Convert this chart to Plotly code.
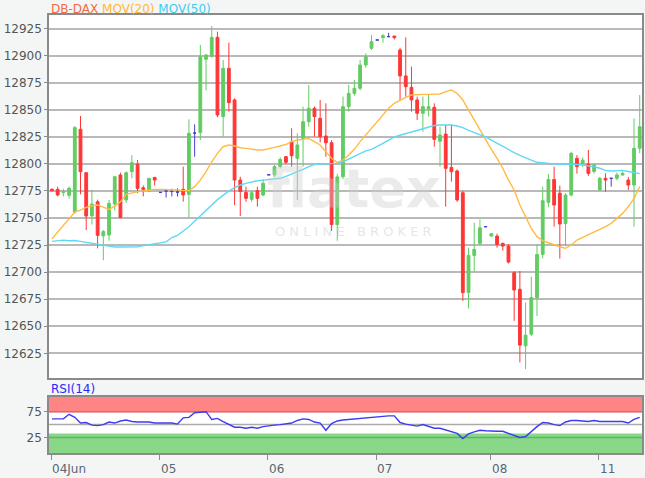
import plotly.graph_objects as go

# ---- data (30-min candles) ----
opens = [12776.5,12776.5,12773.5,12771,12755.6,12832,12791.9,12752,12765,12733.5,
         12734.3,12763,12789.8,12766.7,12792.8,12799.9,12778,12775.3,12787.6,12773.7,
         12775,12774.5,12774,12776.5,12771.9,12828.5,12828.9,12896.7,12899.7,12917,
         12843.7,12888.3,12859.1,12785.1,12773.7,12767.3,12775.3,12771.3,12790,12789.8,
         12797.5,12806.7,12820.6,12805.2,12823.6,12839,12851.4,12842.1,12825.8,12819.6,
         12744,12788.2,12852.9,12865.2,12869.9,12891.4,12906.8,12914.5,12916.7,12917.6,
         12918.2,12905.3,12881.3,12870.8,12859.1,12846.8,12851,12852.3,12821,12827.6,
         12796.8,12793.5,12773.4,12681.1,12715.5,12726.6,12742,12733.3,12733.3,12726.6,
         12724.1,12699.5,12684.2,12631.9,12642.7,12676.5,12716.4,12764.5,12785.7,12773,
         12745,12771.3,12805.2,12800.5,12799.9,12793,12776,12786.7,12786.7,12786.7,
         12789.8,12785.1,12780.5,12814.4]
highs = [12777.5,12779,12777,12779,12835,12844.3,12792,12776,12767,12739,
         12766.7,12789,12792,12793,12808.2,12803.6,12780,12787,12787.6,12774,
         12777,12777,12777.5,12797.5,12841.2,12836.6,12909.9,12901,12927.5,12922.2,
         12896,12912.1,12860.6,12788.2,12779,12775,12779,12786,12790.5,12799,
         12806,12807,12832.9,12828.3,12852.9,12872.9,12852.9,12859.1,12856,12822,
         12791,12862.2,12873,12877.6,12896,12902.2,12919,12914.5,12920,12921.1,
         12918.2,12907.4,12917,12889.9,12862.2,12862.2,12863.7,12856,12834.4,12836,
         12836,12795,12775,12722.6,12745.6,12748.7,12742,12736,12735.5,12727.2,
         12726,12701,12701,12671.9,12696,12725.6,12779,12790.7,12797.5,12780,
         12773,12811.3,12808.2,12806,12812.9,12800.5,12788,12791.3,12786.7,12792,
         12793,12788,12842,12863.7]
lows = [12774.5,12770,12770,12768,12754,12771.9,12738.9,12744,12722,12711,
        12729,12757,12749.7,12764,12786.7,12773,12770,12774,12780,12773,
        12769,12770,12770,12765.1,12750.6,12806.7,12822.1,12868,12898,12843.1,
        12825.2,12848.3,12762,12751.9,12765,12765,12760.5,12770,12789.5,12788,
        12796,12800,12797.5,12766.7,12797.5,12834.4,12825.2,12820,12806.7,12738,
        12729,12786,12848.3,12863,12868,12889,12905.3,12914.5,12912,12917.6,
        12915,12859.1,12862.2,12848.3,12840.6,12829.8,12843.7,12815.9,12797.5,12760.5,
        12783.6,12765,12673.4,12666.4,12701,12725,12742,12733,12722.6,12720,
        12708,12655,12616.6,12610.4,12641,12659.6,12712.7,12760,12742,12712.5,
        12724,12770,12791,12797,12789,12791,12775,12774.4,12779,12785,
        12789,12776,12742,12810]
closes = [12775.3,12771.3,12774.5,12777.5,12833.5,12792.8,12751.9,12763,12734,12737.5,
          12763.6,12788.2,12750.6,12791.9,12801.2,12777.4,12776.5,12786.7,12785.1,12773.7,
          12775,12774.5,12774,12771.3,12828.3,12828.5,12899.1,12900.7,12917,12845.2,
          12888.3,12856.6,12785.1,12774.4,12768.2,12773.4,12768.2,12782.1,12790,12797.5,
          12804.2,12801.5,12807.6,12817.5,12839,12851.4,12843.7,12825.2,12819.6,12744,
          12788,12852.9,12865.2,12869.9,12891.4,12899.1,12912.9,12914.5,12918.5,12917.6,
          12916.7,12881.3,12871.4,12859.1,12846.8,12852.9,12852.9,12822.7,12826.7,12795.9,
          12792.8,12766.7,12681.1,12715.5,12721,12741,12742,12735.5,12725.6,12724.1,
          12709.3,12683.5,12632.6,12641.8,12676.5,12716.4,12766,12785.7,12762,12744.5,
          12771.3,12809.8,12797.5,12803.5,12791.3,12799,12786.7,12785.1,12786.7,12789.8,
          12791.3,12780.5,12814.4,12834.4]
mov20 = [12730.9,12737,12743.2,12749.3,12755.6,12757.4,12759.9,12761.4,12762,12760,
         12758,12761,12765,12771.9,12773.4,12774.4,12775,12776,12776.5,12776.5,
         12776,12776,12776,12775.3,12775.3,12779,12785,12792.8,12802,12809.8,
         12815.9,12817.5,12816.6,12815,12814.4,12813.5,12812.9,12812.9,12814.4,12815.3,
         12816.6,12818.1,12820.6,12822.1,12822.7,12823.6,12820.6,12817.5,12811.3,12805.2,
         12801.2,12803.6,12808.2,12813.5,12820.6,12826.7,12832.9,12839,12845.2,12851.4,
         12856,12859.1,12861.5,12863.7,12864.3,12864.3,12864.3,12864.6,12864.6,12866.8,
         12868.3,12865.2,12859.1,12849.8,12840.6,12830.7,12822.1,12813.5,12805.2,12796,
         12785.1,12775.9,12762,12751.2,12740.5,12732.8,12729.1,12727.2,12725.1,12723.5,
         12722,12725.1,12729.7,12732.1,12734.3,12737.4,12739.5,12742,12745.1,12749.7,
         12754.3,12760.5,12768.2,12779]
mov50 = [12728.4,12729,12729.6,12729,12729.3,12728.5,12727.5,12726.5,12725.5,12724.5,
         12723.5,12723.2,12723.2,12723.2,12723.3,12723.5,12724.5,12725.5,12726.5,12727,
         12728,12732,12734,12738,12742,12747,12752,12757,12762,12767,
         12771,12775,12778,12780.5,12782,12783.5,12784.5,12785,12785.5,12786,
         12786.7,12788.5,12790.5,12793,12795,12797.5,12799.5,12800,12800.2,12800.3,
         12800.5,12802,12804.5,12807,12810,12812,12813.5,12816,12819,12822,
         12825,12826.5,12828,12829.5,12831,12832.5,12834.5,12835.5,12836,12836,
         12836,12835,12833.5,12831,12829,12827,12825,12822,12819,12816.5,
         12813.5,12810.5,12808,12805.5,12803.5,12801.5,12800.8,12800.3,12800,12800,
         12800,12800,12799.5,12799,12798.5,12797.5,12796,12794,12793.5,12794,
         12794,12793,12792,12791]
rsi14 = [61,61,61,70,64,53,54,49,48,50,55,53,57,59,56,55,55,55,53,53,
         53,53,51,63,64,73,74,75,60,62,56,50,45,45,43,45,43,46,48,49,
         50,51,53,58,61,60,55,53,39,52,57,59,60,61,63,64,65,65,67,67,
         67,54,51,49,47,50,47,43,43,40,36,33,23,32,36,39,38,37,37,37,
         33,29,25,27,37,46,54,53,50,48,55,58,58,57,56,58,56,56,56,56,
         56,53,60,64]
day_start = [0, 19, 38, 57, 77, 96]
day_labels = ["04Jun", "05", "06", "07", "08", "11"]
price_ticks = [12625, 12650, 12675, 12700, 12725, 12750, 12775, 12800, 12825, 12850, 12875, 12900, 12925]

n = len(closes)
idx = list(range(n))
doji = [i for i in idx if opens[i] == closes[i]]
body = [i for i in idx if opens[i] != closes[i]]

GREEN = "#62cc62"
RED = "#ff3636"
BLUE = "#4a3ed6"
FONT = "DejaVu Sans"

fig = go.Figure()

fig.add_trace(go.Candlestick(
    x=[idx[i] for i in body], open=[opens[i] for i in body], high=[highs[i] for i in body],
    low=[lows[i] for i in body], close=[closes[i] for i in body],
    increasing=dict(line=dict(color=GREEN, width=1), fillcolor=GREEN),
    decreasing=dict(line=dict(color=RED, width=1), fillcolor=RED),
    xaxis="x", yaxis="y", showlegend=False, hoverinfo="skip"))
fig.add_trace(go.Candlestick(
    x=[idx[i] for i in doji], open=[opens[i] for i in doji], high=[highs[i] for i in doji],
    low=[lows[i] for i in doji], close=[closes[i] for i in doji],
    increasing=dict(line=dict(color=BLUE, width=1), fillcolor=BLUE),
    decreasing=dict(line=dict(color=BLUE, width=1), fillcolor=BLUE),
    xaxis="x", yaxis="y", showlegend=False, hoverinfo="skip"))
fig.add_trace(go.Scatter(x=idx, y=mov20, mode="lines", line=dict(color="#ffbb44", width=1.4),
                         xaxis="x", yaxis="y", showlegend=False, hoverinfo="skip"))
fig.add_trace(go.Scatter(x=idx, y=mov50, mode="lines", line=dict(color="#5fd8f5", width=1.4),
                         xaxis="x", yaxis="y", showlegend=False, hoverinfo="skip"))
fig.add_trace(go.Scatter(x=idx, y=rsi14, mode="lines", line=dict(color="#3c3cf5", width=1.4),
                         xaxis="x2", yaxis="y2", showlegend=False, hoverinfo="skip"))

xr = [-0.52, 103.4]
MAIN_DOM = [0.1712, 1.0]
RSI_DOM = [0.0, 0.1285]
tick_pos = [d - 0.15 for d in day_start]

# RSI bands
fig.add_shape(type="rect", xref="x2 domain", yref="y2", x0=0, x1=1, y0=74, y1=104,
              fillcolor="#ff8585", line_width=0, layer="below")
fig.add_shape(type="rect", xref="x2 domain", yref="y2", x0=0, x1=1, y0=-5, y1=33,
              fillcolor="#88d888", line_width=0, layer="below")
fig.add_shape(type="line", xref="x2 domain", yref="y2", x0=0, x1=1, y0=75, y1=75,
              line=dict(color="#d86a6a", width=1.5), layer="below")
fig.add_shape(type="line", xref="x2 domain", yref="y2", x0=0, x1=1, y0=25, y1=25,
              line=dict(color="#62b262", width=1.5), layer="below")
fig.add_shape(type="line", xref="x2 domain", yref="y2", x0=0, x1=1, y0=50, y1=50,
              line=dict(color="#aaaaaa", width=1.5), layer="below")

fig.update_layout(
    width=645, height=478,
    margin=dict(l=49, r=1, t=15, b=25),
    paper_bgcolor="#f4f6f6", plot_bgcolor="#ffffff",
    font=dict(family=FONT, size=12, color="#555555"),
    xaxis=dict(domain=[0, 1], range=xr, anchor="y", showticklabels=False, showgrid=False,
               zeroline=False, showline=True, mirror=True, linecolor="#8a8a8a", linewidth=1.5,
               rangeslider=dict(visible=False), ticks=""),
    yaxis=dict(domain=MAIN_DOM, range=[12602.2, 12937.6], tickvals=price_ticks,
               ticktext=[str(v) for v in price_ticks], showgrid=True, gridcolor="#b9b9b9",
               gridwidth=2, zeroline=False, showline=True, mirror=True, linecolor="#8a8a8a",
               linewidth=1.5, ticks="outside", ticklen=3, tickcolor="#8a8a8a",
               tickfont=dict(family=FONT, size=12, color="#555555")),
    xaxis2=dict(domain=[0, 1], range=xr, anchor="y2", tickvals=tick_pos,
                showticklabels=False, showgrid=False, zeroline=False, showline=True, mirror=True,
                linecolor="#8a8a8a", linewidth=1.5, ticks="outside", ticklen=5,
                tickcolor="#8a8a8a"),
    yaxis2=dict(domain=RSI_DOM, range=[-5, 104], tickvals=[25, 75], ticktext=["25", "75"],
                showgrid=False, zeroline=False, showline=True, mirror=True, linecolor="#8a8a8a",
                linewidth=1.5, ticks="outside", ticklen=3, tickcolor="#8a8a8a",
                tickfont=dict(family=FONT, size=12, color="#555555")),
    showlegend=False,
)

# day labels, left-aligned at their tick marks
for pos, lab in zip(tick_pos, day_labels):
    fig.add_annotation(xref="x2", yref="paper", x=pos, y=0, xanchor="left", yanchor="top",
                       yshift=-7, xshift=-1, showarrow=False, text=lab,
                       font=dict(family=FONT, size=12, color="#5a6670"))

fig.add_annotation(xref="paper", yref="paper", x=0, y=1, xanchor="left", yanchor="bottom",
                   yshift=-3, showarrow=False, font=dict(family=FONT, size=12),
                   text="<span style='color:#f56a45'>DB-DAX</span> "
                        "<span style='color:#ffb935'>MOV(20)</span> "
                        "<span style='color:#3ccdf0'>MOV(50)</span>")
fig.add_annotation(xref="paper", yref="paper", x=0, y=RSI_DOM[1], xanchor="left", yanchor="bottom",
                   yshift=-1, showarrow=False, text="RSI(14)",
                   font=dict(family=FONT, size=12, color="#2a2af5"))
# watermark
fig.add_annotation(xref="paper", yref="paper", x=0.514, y=0.605, showarrow=False,
                   text="<b>flatex</b>", font=dict(family=FONT, size=54, color="rgba(205,205,205,0.4)"))
fig.add_annotation(xref="paper", yref="paper", x=0.514, y=0.505, showarrow=False,
                   text="O N L I N E &nbsp; B R O K E R",
                   font=dict(family=FONT, size=13, color="rgba(205,205,205,0.5)"))

fig.write_html("out.html", config={"displayModeBar": False},
               post_script="document.body.style.margin='0';document.body.style.overflow='hidden';")
